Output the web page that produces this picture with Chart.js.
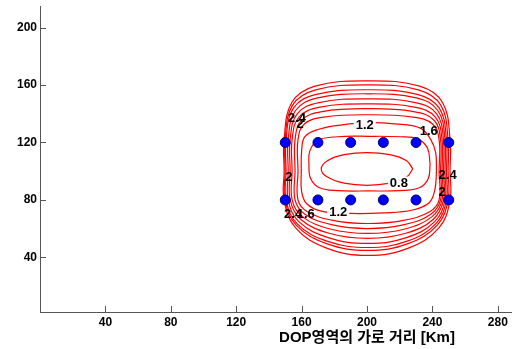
<!DOCTYPE html>
<html>
<head>
<meta charset="utf-8">
<script src="https://cdn.jsdelivr.net/npm/chart.js@4.4.1/dist/chart.umd.min.js"></script>
<style>
  html, body { margin: 0; padding: 0; background: #fff; overflow: hidden; }
  canvas { display: block; }
</style>
</head>
<body>
<canvas id="dopChart" width="700" height="349"></canvas>
<script>
// tick labels
const xTicks = [40, 80, 120, 160, 200, 240, 280];
const yTicks = [40, 80, 120, 160, 200];

// receiver positions (blue dots)
const sensorX = [150, 170, 190, 210, 230, 250];
const sensorY = [120, 80];

// contour lines, [x, y] in km
const c08 = [[228,101.6],[224.2,107.3],[214,111.5],[200,113],[186,111.5],[175.8,107.3],[172,101.6],[175.8,95.9],[186,91.7],[200,90.2],[214,91.7],[224.2,95.9],[228,101.6]];
const c10 = [[238.6,105],[237,116],[231,122.5],[220,124],[201,124.3],[182,124],[170,121.5],[165,114],[164.5,105],[165.5,95],[171,88.5],[182,86.5],[201,86.3],[220,86.5],[232,88.5],[237.5,95],[238.6,105]];
const c12 = [[242.5,100],[242,113],[239,122],[232.6,130],[217,133],[200,133.8],[185,132.3],[170,129],[162,124],[160,114],[159.8,100],[160,86],[163,77.5],[172,72.2],[190,70.6],[210,71],[228,73],[238,78],[241.5,87],[242.5,100]];
const c14 = [[244.1,100],[244.1,122],[240.1,132.9],[228.0,137.7],[200.5,139.3],[173.6,137.7],[161.7,132.9],[157.8,122],[157.8,100],[157.8,80],[163.5,71.8],[179.2,65.8],[200.5,63.6],[222.3,65.8],[238.3,71.8],[244.1,80],[244.1,100]];
const c16 = [[245.0,100],[245.0,122],[241.0,135.5],[228.5,141.5],[200.5,143.5],[172.5,141.5],[160.0,135.5],[156.0,122],[156.0,100],[156.0,80],[162.0,70.1],[178.3,62.8],[200.5,60.1],[222.8,62.8],[239.0,70.1],[245.0,80],[245.0,100]];
const c18 = [[245.9,100],[245.9,122],[241.8,137.7],[229.1,144.6],[200.5,146.9],[171.3,144.6],[158.4,137.7],[154.2,122],[154.2,100],[154.2,80],[160.4,68.4],[177.4,59.8],[200.5,56.7],[223.2,59.8],[239.8,68.4],[245.9,80],[245.9,100]];
const c20 = [[246.8,100],[246.8,122],[242.6,139.9],[229.7,147.8],[200.5,150.4],[170.6,147.8],[157.3,139.9],[153.0,122],[153.0,100],[153.0,80],[159.4,66.6],[176.8,56.8],[200.5,53.2],[223.7,56.8],[240.6,66.6],[246.8,80],[246.8,100]];
const c22 = [[247.7,100],[247.7,122],[243.4,142.1],[230.2,151.0],[200.5,153.9],[169.8,151.0],[156.2,142.1],[151.8,122],[151.8,100],[151.8,80],[158.3,64.9],[176.2,53.8],[200.5,49.7],[224.1,53.8],[241.4,64.9],[247.7,80],[247.7,100]];
const c24 = [[248.6,100],[248.6,122],[244.2,143.9],[230.8,153.5],[200.5,156.7],[169.0,153.5],[155.0,143.9],[150.5,122],[150.5,100],[150.5,80],[157.2,63.5],[175.5,51.3],[200.5,46.9],[224.6,51.3],[242.2,63.5],[248.6,80],[248.6,100]];
const c26 = [[249.6,100],[249.6,122],[245.1,146.0],[231.4,156.6],[200.5,160.1],[168.6,156.6],[154.5,146.0],[149.9,122],[149.9,100],[149.9,80],[156.7,62.5],[175.2,49.6],[200.5,44.9],[225.1,49.6],[243.0,62.5],[249.6,80],[249.6,100]];
const c28 = [[250.8,100],[250.8,122],[246.2,147.8],[232.2,159.2],[200.5,162.9],[168.2,159.2],[154.0,147.8],[149.3,122],[149.3,100],[149.3,80],[156.2,60.7],[174.9,46.6],[200.5,41.4],[225.7,46.6],[244.1,60.7],[250.8,80],[250.8,100]];

// clabel texts and where they sit
const labelText = ['1.2', '1.6', '2.4', '2', '2', '2.4', '2', '2.4', '1.6', '1.2', '0.8'];
const labelX = [198.6, 237.8, 157.2, 159.1, 152.2, 249.3, 245.9, 154.8, 162.5, 182.4, 219.5];
const labelY = [132.3, 128.6, 137.2, 133.0, 96.3, 97.6, 85.8, 70.6, 70.6, 72.3, 92.1];
const labelGap = [true, false, false, false, false, false, false, false, false, true, true];

const FONT = '"Liberation Sans", "Noto Sans CJK KR", Arial, sans-serif';
const contours = [c08, c10, c12, c14, c16, c18, c20, c22, c24, c26, c28];

const sensors = [];
sensorY.forEach(y => sensorX.forEach(x => sensors.push({ x: x, y: y })));

// inward tick marks like matlab
const tickMarks = {
    id: 'tickMarks',
    afterDraw(chart) {
        const ctx = chart.ctx, area = chart.chartArea;
        const xs = chart.scales.x, ys = chart.scales.y;
        ctx.save();
        ctx.strokeStyle = '#555';
        ctx.lineWidth = 1;
        ctx.beginPath();
        xTicks.forEach(v => {
            const px = Math.round(xs.getPixelForValue(v)) + 0.5;
            ctx.moveTo(px, area.bottom);
            ctx.lineTo(px, area.bottom - 6);
        });
        yTicks.forEach(v => {
            const py = Math.round(ys.getPixelForValue(v)) + 0.5;
            ctx.moveTo(area.left, py);
            ctx.lineTo(area.left + 6, py);
        });
        ctx.stroke();
        ctx.restore();
    }
};

const contourLabels = {
    id: 'contourLabels',
    afterDatasetsDraw(chart) {
        const ctx = chart.ctx;
        const xs = chart.scales.x, ys = chart.scales.y;
        ctx.save();
        ctx.font = 'bold 13px ' + FONT;
        ctx.textAlign = 'center';
        ctx.textBaseline = 'middle';
        labelText.forEach((t, i) => {
            const px = xs.getPixelForValue(labelX[i]);
            const py = ys.getPixelForValue(labelY[i]);
            if (labelGap[i]) {
                const w = ctx.measureText(t).width + 4;
                ctx.fillStyle = '#fff';
                ctx.fillRect(px - w / 2, py - 6, w, 12);
            }
            ctx.fillStyle = '#000';
            ctx.fillText(t, px, py + 1);
        });
        ctx.restore();
    }
};

const datasets = [{
    label: 'sensors',
    data: sensors,
    order: 0,
    pointRadius: 5,
    pointBackgroundColor: '#0000ff',
    pointBorderColor: '#000066',
    pointBorderWidth: 1,
    showLine: false
}];
contours.forEach((c, i) => {
    datasets.push({
        label: 'c' + i,
        data: c.map(p => ({ x: p[0], y: p[1] })),
        order: 1,
        showLine: true,
        borderColor: '#ff0000',
        borderWidth: 1.2,
        pointRadius: 0,
        tension: 0.4,
        fill: false
    });
});

new Chart(document.getElementById('dopChart').getContext('2d'), {
    type: 'scatter',
    data: { datasets: datasets },
    options: {
        responsive: false,
        animation: false,
        layout: { padding: { top: 5, right: 1, left: 0, bottom: 0 } },
        plugins: { legend: { display: false }, tooltip: { enabled: false } },
        scales: {
            x: {
                type: 'linear',
                min: 0,
                max: 400,
                afterBuildTicks: s => { s.ticks = xTicks.map(v => ({ value: v })); },
                afterFit: s => { s.height = 37; s.paddingLeft = 0; s.paddingRight = 0; },
                grid: { drawOnChartArea: false, drawTicks: false },
                border: { color: '#555', width: 1 },
                ticks: { color: '#000', padding: 3, maxRotation: 0, font: { family: FONT, size: 12, weight: 'bold' } },
                title: {
                    display: true,
                    text: 'DOP영역의 가로 거리 [Km]',
                    color: '#000',
                    padding: { top: 0, bottom: 2 },
                    font: { family: FONT, size: 15, weight: 'bold' }
                }
            },
            y: {
                type: 'linear',
                min: 2,
                max: 215,
                afterBuildTicks: s => { s.ticks = yTicks.map(v => ({ value: v })); },
                afterFit: s => { s.width = 40; s.paddingTop = 0; s.paddingBottom = 0; },
                grid: { drawOnChartArea: false, drawTicks: false },
                border: { color: '#555', width: 1 },
                ticks: { color: '#000', padding: 3, font: { family: FONT, size: 12, weight: 'bold' } }
            }
        }
    },
    plugins: [tickMarks, contourLabels]
});
</script>
</body>
</html>
